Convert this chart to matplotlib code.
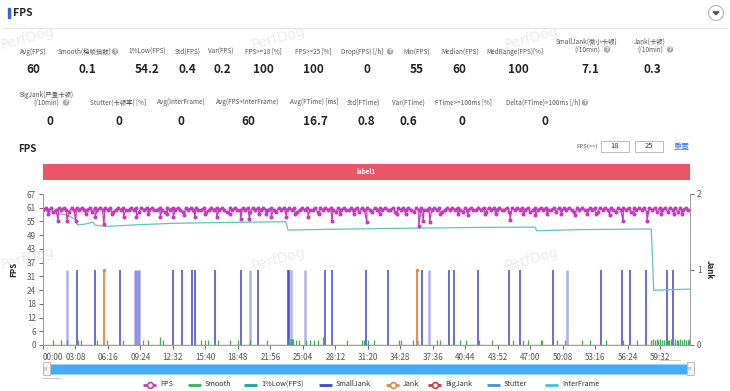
import numpy as np
import matplotlib
matplotlib.use('Agg')
import matplotlib.pyplot as plt
from matplotlib.patches import Rectangle, Circle, Polygon

plt.rcParams['font.family'] = ['Noto Sans CJK SC', 'DejaVu Sans']

# ---------------- data ----------------
row1_labels = ["Avg(FPS)", "Smooth(稳帧指数)", "1%Low(FPS)", "Std(FPS)", "Var(FPS)",
               "FPS>=18 [%]", "FPS>=25 [%]", "Drop(FPS) [/h]", "Min(FPS)", "Median(FPS)",
               "MedRange(FPS)[%]", "SmallJank(微小卡顿)\n(/10min)", "Jank(卡顿)\n(/10min)"]
row1_values = ["60", "0.1", "54.2", "0.4", "0.2", "100", "100", "0", "55", "60", "100", "7.1", "0.3"]
row2_labels = ["BigJank(严重卡顿)\n(/10min)", "Stutter(卡顿率) [%]", "Avg(InterFrame)",
               "Avg(FPS+InterFrame)", "Avg(FTime) [ms]", "Std(FTime)", "Var(FTime)",
               "FTime>=100ms [%]", "Delta(FTime)>100ms [/h]"]
row2_values = ["0", "0", "0", "60", "16.7", "0.8", "0.6", "0", "0"]

x_tick_labels = ["00:00", "03:08", "06:16", "09:24", "12:32", "15:40", "18:48", "21:56", "25:04",
                 "28:12", "31:20", "34:28", "37:36", "40:44", "43:52", "47:00", "50:08", "53:16",
                 "56:24", "59:32"]
x_tick_step = 188          # seconds
x_max = 3745               # seconds
y_tick_labels = ["0", "6", "12", "18", "24", "31", "37", "43", "49", "55", "61", "67"]
fps_max = 67
jank_ticks = [0, 1, 2]

# FPS sampled every 15 s
fps_step = 15
fps_base = [60,61,60,61,59,60,61,60,61,60,59,61,60,61,60,61,60,60,61,59,61,60,61,60,61,
            60,61,59,60,61,60,61,60,60,61,60,61,59,61,60,61,60,61,60,60,61,60,59,61,60,
            61,60,61,60,59,61,60,61,60,61,60,60,61,59,60,61,60,61,60,61,60,59,61,60,61,
            60,60,61,60,61,59,61,60,61,60,61,60,60,61,60,59,61,60,61,60,61,60,61,59,60,
            61,60,61,60,60,61,59,61,60,61,60,61,60,59,61,60,61,60,60,61,60,61,59,61,60,
            61,60,59,61,60,61,60,61,60,60,61,59,61,60,61,60,61,60,59,61,60,61,60,60,61,
            60,61,60,61,59,60,61,60,61,60,61,60,59,61,60,61,60,60,61,60,61,59,61,60,61,
            60,61,60,60,61,59,61,60,61,60,61,60,61,59,60,61,60,61,60,61,60,60,61,59,61,
            60,61,60,61,60,59,61,60,61,60,60,61,60,61,59,61,60,61,60,61,60,59,61,60,61,
            60,61,59,61,60,61,60,61,59,61,60,61,59,61,60,61,59,61,60,61,59,61,60,61,60]
fps_dip_t = [30, 88, 139, 189, 250, 302, 352, 400, 466, 541, 610, 679, 720, 755, 818, 880, 940,
             1006, 1080, 1145, 1195, 1250, 1290, 1321, 1409, 1460, 1535, 1600, 1673, 1720, 1800,
             1874, 1950, 2050, 2100, 2175, 2201, 2238, 2300, 2400, 2460, 2560, 2620, 2704, 2780,
             2850, 2920, 3000, 3080, 3150, 3200, 3280, 3358, 3420, 3496, 3580, 3650, 3700]
fps_dip_v = [58, 55, 55, 55, 58, 57, 53.5, 58, 57, 57, 58, 57, 58, 57, 57.5, 57, 58,
             57, 58, 56, 56, 58, 58, 57, 57, 58, 57, 58, 55, 58, 58,
             54.5, 58, 58, 58, 53, 55, 54.5, 58, 58, 57.5, 58, 58, 55.5, 58,
             57.5, 58, 58, 57.5, 58, 58, 57.5, 55, 58, 55, 58, 58, 58]

low_t = [0, 60, 108, 137, 185, 199, 240, 291, 300, 359, 561, 754, 1004, 1197, 1405, 1418,
         1718, 2103, 2566, 2848, 2858, 3106, 3521, 3535, 3745]
low_v = [60, 58.6, 58.1, 57.7, 55.9, 53.3, 53.6, 54.5, 53.2, 52.6, 53.4, 54.0, 54.3, 54.5,
         54.7, 51.0, 51.4, 51.8, 52.2, 52.3, 50.7, 51.2, 51.5, 24.3, 24.8]

smooth_t = [60, 104, 137, 204, 220, 310, 368, 465, 580, 609, 677, 696, 879, 912, 937, 956,
            1014, 1082, 1130, 1197, 1294, 1436, 1442, 1448, 1467, 1483, 1521, 1545, 1568, 1593,
            1618, 1760, 1847, 1857, 1882, 1915, 2061, 2071, 2142, 2280, 2297, 2416, 2447, 2524,
            2597, 2720, 2778, 2807, 2882, 2888, 2977, 3019, 3121, 3167, 3256, 3357, 3440,
            3522, 3530, 3541, 3552, 3560, 3571, 3583, 3592, 3604, 3615, 3626, 3634, 3645,
            3656, 3668, 3677, 3688, 3699, 3710, 3720, 3731, 3740]
smooth_v = [2, 2, 2, 2, 2, 2, 2, 2, 2, 2, 3.5, 2, 2, 2, 2, 2,
            2, 2, 2, 2, 2, 2.5, 2.5, 2.5, 2, 2, 2, 2, 2, 2,
            3.5, 2, 2, 2, 2, 2, 2, 2, 2, 2, 2, 2, 2, 2,
            2, 2, 2, 2, 2, 2, 2, 2, 2, 2, 2, 2, 2,
            2, 2.5, 2, 2.5, 2, 2.5, 2, 2, 2.5, 2, 2, 2.5, 2,
            2.5, 2, 2, 2.5, 2, 2.5, 2, 2, 2.5]

smalljank_t = [195, 301, 443, 752, 804, 864, 881, 997, 1145, 1242, 1417, 1422, 1631, 1670,
               1870, 1997, 2194, 2348, 2381, 2515, 2700, 2763, 2954, 3228, 3351, 3396, 3492,
               3613, 3645]
smalljank_light_t = [141, 530, 540, 548, 556, 1196, 1438, 1519, 2233, 3035]
smalljank_v = 1
jank_t = [353, 2167]
jank_v = 1
stutter_t = [1425, 1440, 2167]
stutter_v = [0.08, 0.08, 0.06]

legend_names = ["FPS", "Smooth", "1%Low(FPS)", "SmallJank", "Jank", "BigJank", "Stutter", "InterFrame"]
legend_colors = ["#c43cb9", "#3fae5f", "#16a394", "#4346d0", "#f08040", "#d93636", "#4a8fe0", "#3cc6d6"]
legend_marker = [True, False, False, False, True, True, False, False]

# ---------------- figure ----------------
W, H = 730, 391
fig = plt.figure(figsize=(W / 100, H / 100), dpi=100)
ov = fig.add_axes([0, 0, 1, 1])
ov.set_xlim(0, W)
ov.set_ylim(H, 0)
ov.axis('off')
ov.set_zorder(0)

LBL = '#555555'
# watermarks
for (wx, wy) in [(27, 38), (278, 38), (531, 38), (27, 258), (278, 259), (531, 259)]:
    ov.text(wx, wy, "PerfDog", fontsize=10, color='#ececec', rotation=15,
            ha='center', va='center', family='DejaVu Sans')

# header
ov.add_patch(Rectangle((7.5, 8), 2, 10, color='#3a62d6'))
ov.text(13, 13, "FPS", fontsize=7.5, fontweight='bold', color='#222222', va='center', ha='left')
ov.plot([4, 726], [27.5, 27.5], color='#e6e6e6', lw=0.8)
ov.add_patch(Circle((716, 13), 7.5, facecolor='white', edgecolor='#b5b5b5', lw=0.8))
ov.add_patch(Polygon([[713.2, 11.8], [718.8, 11.8], [716, 14.8]], color='#555555'))

row1_lx = [33, 84.5, 147, 187.5, 221, 263, 313, 362, 417, 460, 515, 587, 650]
row1_vx = [33, 87, 147, 187, 222, 263, 313, 367, 417, 459, 518, 590, 652]
row2_lx = [46.5, 118, 181, 248, 314, 363, 408, 463, 543]
row2_vx = [50, 119, 181, 248, 315, 366, 408, 462, 545]


def qicon(x, y):
    ov.add_patch(Circle((x, y), 3.2, color='#a9a9a9', lw=0))
    ov.text(x, y + 0.2, "?", fontsize=3.6, color='white', ha='center', va='center',
            fontweight='bold', family='DejaVu Sans')


def label(x, y_single, lab, two_line_ys):
    lines = lab.split('\n')
    if len(lines) == 1:
        ov.text(x, y_single, lab, fontsize=4.6, color=LBL, ha='center', va='center')
    else:
        for ln, yy in zip(lines, two_line_ys):
            ov.text(x, yy, ln, fontsize=4.6, color=LBL, ha='center', va='center')


for lab, x in zip(row1_labels, row1_lx):
    label(x, 51.5, lab, (42, 49.5))
for val, x in zip(row1_values, row1_vx):
    ov.text(x, 69.5, val, fontsize=8.5, fontweight='bold', color='#222222', ha='center', va='center')
for lab, x in zip(row2_labels, row2_lx):
    label(x, 102.5, lab, (95, 102.5))
for val, x in zip(row2_values, row2_vx):
    ov.text(x, 121.5, val, fontsize=8.5, fontweight='bold', color='#222222', ha='center', va='center')
for (qx, qy) in [(115, 51.5), (390, 51.5), (607, 49.5), (670, 49.5), (66, 102.5), (585, 102.5)]:
    qicon(qx, qy)

# second section
ov.text(18, 148.5, "FPS", fontsize=7, fontweight='bold', color='#222222', va='center', ha='left')
ov.text(598, 146.5, "FPS(>=)", fontsize=4.3, color=LBL, ha='right', va='center')
for (bx, txt) in [(601, "18"), (635, "25")]:
    ov.add_patch(Rectangle((bx, 141), 28, 11, facecolor='white', edgecolor='#bbbbbb', lw=0.7))
    ov.text(bx + 14, 146.5, txt, fontsize=5.5, color='#333333', ha='center', va='center')
ov.text(682, 146.5, "重置", fontsize=5.8, color='#3f74d8', ha='center', va='center')
ov.add_patch(Rectangle((42.5, 163.5), 647.5, 16.5, color='#eb5667', lw=0))
ov.text(366, 172, "label1", fontsize=4.5, color='white', fontweight='bold', ha='center', va='center')

# slider
ov.add_patch(Rectangle((46, 363.5), 645, 10, facecolor='#43acf2', edgecolor='#9fd3f7', lw=0.6))
for hx in [42.5, 686.5]:
    ov.add_patch(Rectangle((hx, 362), 7, 13, facecolor='#f4f4f4', edgecolor='#bdbdbd', lw=0.7))
    ov.text(hx + 3.5, 368.5, "|||", fontsize=3, color='#888888', ha='center', va='center',
            family='DejaVu Sans')
ov.plot([660, 680], [360, 360], color='#cccccc', lw=0.8)
ov.plot([42, 60], [377.5, 377.5], color='#cccccc', lw=0.8)

# legend
leg_x = [143, 188, 244, 319, 386, 428, 487, 545]
for name, col, mk, lx in zip(legend_names, legend_colors, legend_marker, leg_x):
    ov.plot([lx, lx + 13], [384.5, 384.5], color=col, lw=2.0, solid_capstyle='butt')
    if mk:
        ov.plot([lx + 6.5], [384.5], 'o', mfc='white', mec=col, ms=4.2, mew=1.2)
    ov.text(lx + 17, 384.5, name, fontsize=5.2, color='#333333', ha='left', va='center')

# ---------------- chart ----------------
left, right, top, bottom = 43, 690, 194, 345
ax = fig.add_axes([left / W, (H - bottom) / H, (right - left) / W, (bottom - top) / H])
ax2 = ax.twinx()
ax.set_zorder(3)
ax2.set_zorder(2)
ax.patch.set_visible(False)
ax2.patch.set_visible(False)

ax.set_xlim(0, x_max)
ax.set_ylim(0, fps_max)
ax2.set_ylim(0, jank_ticks[-1])

xt = np.arange(len(x_tick_labels)) * x_tick_step
ax.set_xticks(xt)
ax.set_xticklabels(x_tick_labels)
ax.get_xticklabels()[0].set_horizontalalignment('left')
yt = np.linspace(0, fps_max, len(y_tick_labels))
ax.set_yticks(yt)
ax.set_yticklabels(y_tick_labels)
ax2.set_yticks(jank_ticks)

for a in (ax, ax2):
    for s in a.spines.values():
        s.set_visible(False)
    a.tick_params(labelsize=5.8, colors='#555555', length=3, width=0.6, pad=2)
for a, side in ((ax, 'left'), (ax, 'bottom'), (ax2, 'right')):
    a.spines[side].set_visible(True)
    a.spines[side].set_color('#9a9a9a')
    a.spines[side].set_linewidth(0.7)
ax.tick_params(axis='x', pad=3)
ax.set_ylabel("FPS", fontsize=5.8, fontweight='bold', color='#222222', labelpad=6)
ax2.set_ylabel("Jank", fontsize=5.8, fontweight='bold', color='#222222', rotation=-90, labelpad=9)

# jank-axis series
ax2.vlines(smalljank_t, 0, smalljank_v, color='#4346d0', lw=1.3, alpha=0.85)
ax2.vlines(smalljank_light_t, 0, smalljank_v, color='#4346d0', lw=1.8, alpha=0.42)
ax2.vlines(stutter_t, 0, stutter_v, color='#4a8fe0', lw=2.0, alpha=0.7)
ax2.vlines(jank_t, 0, jank_v, color='#f08040', lw=1.3)
ax2.plot(jank_t, [jank_v] * len(jank_t), 'o', color='#f08040', ms=2.4, mew=0)
ax2.plot([0, x_max], [0, 0], color='#c87a4a', lw=1.0)

# fps-axis series
ax.vlines(smooth_t, 0, smooth_v, color='#3fae5f', lw=0.9)
ax.plot(low_t, low_v, color='#62c3bb', lw=0.9)

fps_t = list(np.arange(len(fps_base)) * fps_step) + fps_dip_t
fps_v = list(fps_base) + fps_dip_v
order = np.argsort(fps_t)
fps_t = np.array(fps_t)[order]
fps_v = np.array(fps_v)[order]
ax.plot(fps_t, fps_v, color='#c43cb9', lw=0.9, marker='o', ms=2.9, mew=0)

fig.savefig("out.png", dpi=100)
